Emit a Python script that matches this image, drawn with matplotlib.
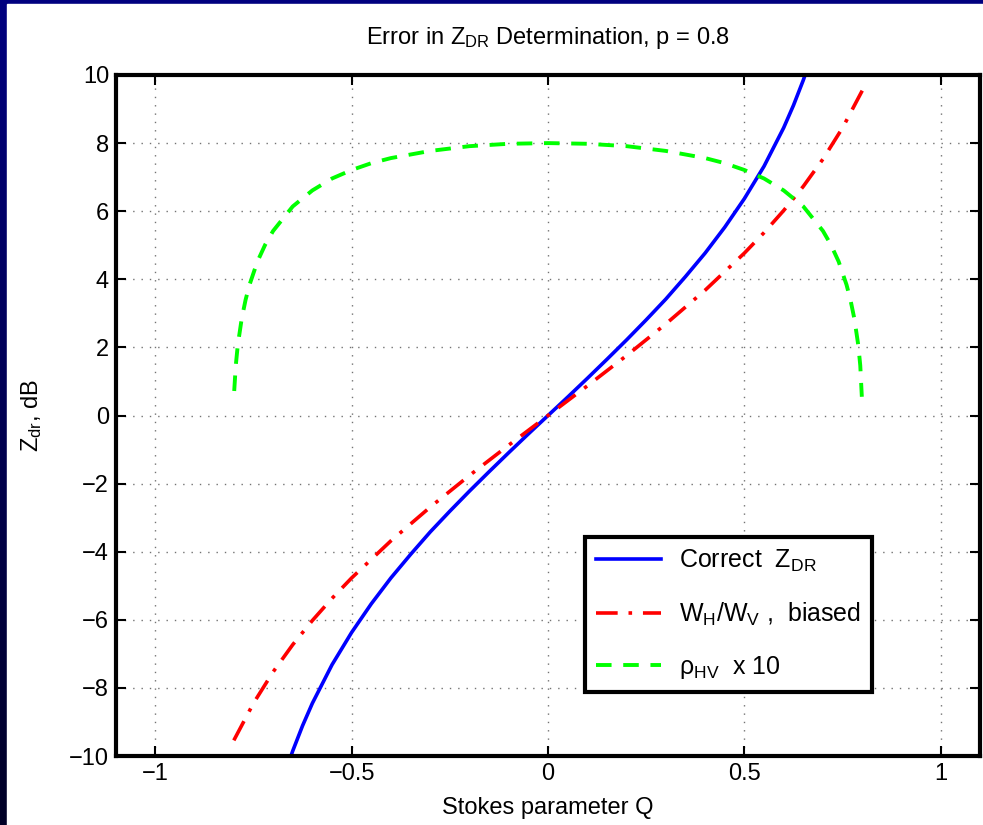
import matplotlib
matplotlib.use("Agg")
import matplotlib.pyplot as plt
import numpy as np
from matplotlib.patches import Rectangle

plt.rcParams['font.family'] = ['Liberation Sans', 'DejaVu Sans']
plt.rcParams['mathtext.fontset'] = 'custom'
plt.rcParams['mathtext.rm'] = 'Liberation Sans'
plt.rcParams['mathtext.it'] = 'Liberation Sans:italic'

# Correct Z_DR (blue)
q_correct = [-0.66, -0.65, -0.625, -0.6, -0.55, -0.5, -0.45, -0.4, -0.35, -0.3, -0.25, -0.2, -0.15, -0.1, -0.05,
             0.0, 0.05, 0.1, 0.15, 0.2, 0.25, 0.3, 0.35, 0.4, 0.45, 0.5, 0.55, 0.6, 0.625, 0.65, 0.66]
zdr_correct = [-10.18, -9.85, -9.11, -8.45, -7.32, -6.37, -5.53, -4.77, -4.08, -3.42, -2.81, -2.22, -1.65, -1.09, -0.54,
               0.0, 0.54, 1.09, 1.65, 2.22, 2.81, 3.42, 4.08, 4.77, 5.53, 6.37, 7.32, 8.45, 9.11, 9.85, 10.18]

# W_H/W_V biased (red dash-dot)
q_biased = [-0.8, -0.75, -0.7, -0.65, -0.6, -0.55, -0.5, -0.4, -0.3, -0.2, -0.1,
            0.0, 0.1, 0.2, 0.3, 0.4, 0.5, 0.55, 0.6, 0.65, 0.7, 0.75, 0.8]
zdr_biased = [-9.54, -8.45, -7.53, -6.73, -6.02, -5.37, -4.77, -3.68, -2.69, -1.76, -0.87,
              0.0, 0.87, 1.76, 2.69, 3.68, 4.77, 5.37, 6.02, 6.73, 7.53, 8.45, 9.54]

# rho_HV x 10 (green dashed)
q_rho = [-0.799, -0.795, -0.79, -0.78, -0.77, -0.76, -0.74, -0.72, -0.7, -0.65, -0.6, -0.55, -0.5, -0.45, -0.4, -0.3, -0.2, -0.1,
         0.0, 0.1, 0.2, 0.3, 0.4, 0.45, 0.5, 0.55, 0.6, 0.65, 0.7, 0.72, 0.74, 0.76, 0.77, 0.78, 0.79, 0.795, 0.799]
rho_hv = [0.72, 1.47, 2.06, 2.84, 3.40, 3.84, 4.52, 5.02, 5.42, 6.14, 6.61, 6.96, 7.21, 7.41, 7.56, 7.77, 7.91, 7.98,
          8.0, 7.98, 7.91, 7.77, 7.56, 7.41, 7.21, 6.96, 6.61, 6.14, 5.42, 5.02, 4.52, 3.84, 3.40, 2.84, 2.06, 1.47, 0.55]

FS = 17

fig = plt.figure(figsize=(9.83, 8.25), dpi=100)

# dark blue slide border on the left and top
bg = fig.add_axes([0, 0, 1, 1], zorder=-10)
grad = np.linspace(0, 1, 256).reshape(-1, 1)
navy = np.zeros((256, 1, 3))
navy[:, 0, 2] = 0.5 - 0.35 * grad[:, 0]
bg.imshow(navy, aspect='auto', extent=[0, 1, 0, 1])
bg.add_patch(Rectangle((7 / 983, 0), 1, 1 - 4 / 825, color='white'))
bg.set_xlim(0, 1)
bg.set_ylim(0, 1)
bg.axis('off')

ax = fig.add_axes([0.118, 0.0836, 0.879, 0.8255])
ax.plot(q_correct, zdr_correct, color='#0000ff', lw=2.6, label=r'Correct  Z$_{\mathrm{DR}}$')
ax.plot(q_biased, zdr_biased, color='#ff0000', lw=2.6, linestyle=(0, (6, 3, 1, 3)),
        label=r'W$_{\mathrm{H}}$/W$_{\mathrm{V}}$ ,  biased')
ax.plot(q_rho, rho_hv, color='#00ff00', lw=2.8, linestyle=(0, (4, 3)), label='\u03c1$_{\\mathrm{HV}}$  x 10')

ax.set_xlim(-1.1, 1.1)
ax.set_ylim(-10, 10)
ax.set_xticks([-1, -0.5, 0, 0.5, 1])
ax.set_xticklabels(['\u22121', '\u22120.5', '0', '0.5', '1'])
ax.set_yticks(range(-10, 11, 2))
ax.set_yticklabels([str(v).replace('-', '\u2212') for v in range(-10, 11, 2)])
ax.tick_params(direction='in', top=True, right=True, length=7, width=1.5, labelsize=FS, pad=5)
for s in ax.spines.values():
    s.set_linewidth(3)
ax.grid(True, color='0.45', linestyle=(0, (1, 5)), lw=1)

ax.set_title(r'Error in Z$_{\mathrm{DR}}$ Determination, p = 0.8', fontsize=FS, pad=22)
ax.set_xlabel('Stokes parameter Q', fontsize=FS, labelpad=9)
ax.set_ylabel(r'Z$_{\mathrm{dr}}$, dB', fontsize=FS, labelpad=18)

leg = ax.legend(loc='lower left', bbox_to_anchor=(0.543, 0.094), borderaxespad=0, fontsize=FS + 1,
                fancybox=False, edgecolor='black', framealpha=1, handlelength=2.6, labelspacing=1.05,
                borderpad=0.45, handletextpad=0.7)
leg.get_frame().set_linewidth(3)

fig.savefig('out.png', dpi=100)
